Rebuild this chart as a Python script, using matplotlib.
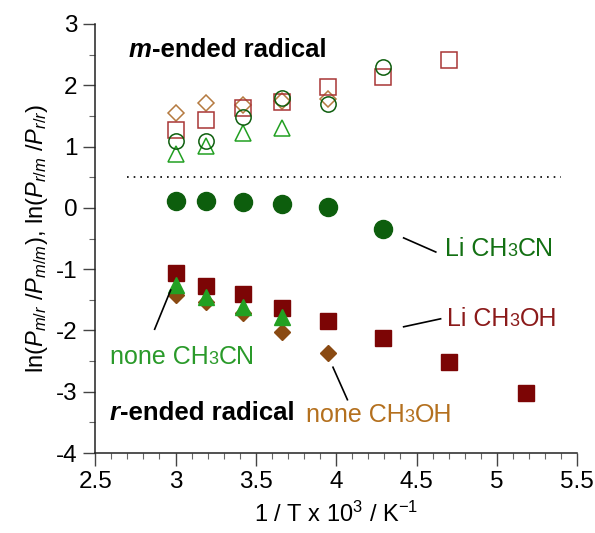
import matplotlib
matplotlib.use("Agg")
import matplotlib.pyplot as plt
from matplotlib.ticker import MultipleLocator, FuncFormatter
from matplotlib.offsetbox import TextArea, HPacker, AnnotationBbox

plt.rcParams['font.family'] = ['Liberation Sans', 'DejaVu Sans']
plt.rcParams['mathtext.fontset'] = 'custom'
plt.rcParams['mathtext.rm'] = 'Liberation Sans'
plt.rcParams['mathtext.it'] = 'Liberation Sans:italic'
plt.rcParams['mathtext.bf'] = 'Liberation Sans:bold'

# 1/T x 10^3 values
x_all = [3.00, 3.19, 3.42, 3.66, 3.95, 4.29, 4.70, 5.18]

# m-ended radical (open symbols)
m_li_ch3cn = [1.09, 1.09, 1.48, 1.79, 1.70, 2.30]
m_li_ch3oh = [1.27, 1.43, 1.63, 1.73, 1.97, 2.14, 2.41]
m_none_ch3cn = [0.88, 1.01, 1.22, 1.30]
m_none_ch3oh = [1.55, 1.71, 1.68, 1.74, 1.78]

# r-ended radical (filled symbols)
r_li_ch3cn = [0.11, 0.11, 0.10, 0.06, 0.01, -0.34]
r_li_ch3oh = [-1.06, -1.27, -1.40, -1.63, -1.85, -2.12, -2.51, -3.02]
r_none_ch3cn = [-1.26, -1.45, -1.62, -1.78]
r_none_ch3oh = [-1.42, -1.53, -1.71, -2.02, -2.37]

dark_green = '#0d5e0d'
light_green = '#22a022'
maroon = '#7c0505'
red_open = '#a83535'
brown = '#8a4a12'
brown_open = '#b57a40'

fig = plt.figure(figsize=(5.95, 5.33), dpi=100)
ax = fig.add_axes([0.16, 0.15, 0.81, 0.805])

ms_open = dict(linestyle='none', markerfacecolor='none', markeredgewidth=1.1)
ax.plot(x_all[:5], m_none_ch3oh, marker='D', markersize=8.0, markeredgecolor=brown_open, **ms_open)
ax.plot(x_all[:7], m_li_ch3oh, marker='s', markersize=11, markeredgecolor=red_open, **ms_open)
ax.plot(x_all[:4], m_none_ch3cn, marker='^', markersize=11, markeredgecolor=light_green, **ms_open)
ax.plot(x_all[:6], m_li_ch3cn, marker='o', markersize=11, markeredgecolor=dark_green, **ms_open)

ax.plot(x_all[:6], r_li_ch3cn, marker='o', markersize=13, color=dark_green, linestyle='none')
ax.plot(x_all[:8], r_li_ch3oh, marker='s', markersize=12, color=maroon, linestyle='none')
ax.plot(x_all[:5], r_none_ch3oh, marker='D', markersize=8.0, color=brown, linestyle='none')
ax.plot(x_all[:4], r_none_ch3cn, marker='^', markersize=11, color=light_green, linestyle='none')

# dotted separator
ax.plot([2.70, 5.40], [0.5, 0.5], color='black', linestyle=(0, (1, 3)), linewidth=1.2)

ax.set_xlim(2.5, 5.5)
ax.set_ylim(-4, 3)
ax.xaxis.set_major_locator(MultipleLocator(0.5))
ax.xaxis.set_minor_locator(MultipleLocator(0.1))
ax.yaxis.set_major_locator(MultipleLocator(1))
ax.yaxis.set_minor_locator(MultipleLocator(0.5))
ax.xaxis.set_major_formatter(FuncFormatter(lambda v, p: f'{v:g}'))
ax.yaxis.set_major_formatter(FuncFormatter(lambda v, p: f'{v:g}'))
for s in ['top', 'right']:
    ax.spines[s].set_visible(False)
for s in ['left', 'bottom']:
    ax.spines[s].set_linewidth(1.1)
    ax.spines[s].set_color('#222222')
ax.tick_params(which='major', direction='out', length=9, width=1.0, labelsize=17.5, color='#444444', pad=4)
ax.tick_params(which='minor', direction='out', length=4, width=0.8, color='#666666')

ax.set_xlabel(r'1 / T x 10$^{3}$ / K$^{\mathregular{-1}}$', fontsize=17, labelpad=6)
ax.set_ylabel(r'ln($P_{m/r}$ /$P_{m/m}$), ln($P_{r/m}$ /$P_{r/r}$)', fontsize=17, labelpad=4)


def label(x, y, parts, color, weight='normal'):
    children = []
    for txt, size, style in parts:
        children.append(TextArea(txt, textprops=dict(color=color, size=size,
                                                     fontweight=weight, fontstyle=style)))
    box = HPacker(children=children, align='baseline', pad=0, sep=0)
    ab = AnnotationBbox(box, (x, y), xycoords='data', box_alignment=(0, 0.5), frameon=False, pad=0)
    ax.add_artist(ab)


# region titles
label(2.71, 2.58, [('m', 18.5, 'italic'), ('-ended radical', 18.5, 'normal')], 'black', weight='bold')
label(2.59, -3.35, [('r', 18.5, 'italic'), ('-ended radical', 18.5, 'normal')], 'black', weight='bold')

label(4.68, -0.67, [('Li CH', 18, 'normal'), ('3', 13, 'normal'), ('CN', 18, 'normal')], '#137013')
label(4.69, -1.81, [('Li CH', 18, 'normal'), ('3', 13, 'normal'), ('OH', 18, 'normal')], '#8b1a1a')
label(2.59, -2.43, [('none CH', 18, 'normal'), ('3', 13, 'normal'), ('CN', 18, 'normal')], '#2a9a2a')
label(3.81, -3.38, [('none CH', 18, 'normal'), ('3', 13, 'normal'), ('OH', 18, 'normal')], '#b4701e')

# leader lines
lw = 1.2
ax.plot([4.42, 4.62], [-0.49, -0.72], color='black', linewidth=lw)
ax.plot([4.42, 4.65], [-1.94, -1.81], color='black', linewidth=lw)
ax.plot([2.97, 2.87], [-1.34, -1.98], color='black', linewidth=lw)
ax.plot([3.98, 4.07], [-2.60, -3.13], color='black', linewidth=lw)

fig.savefig('out.png', dpi=100)
